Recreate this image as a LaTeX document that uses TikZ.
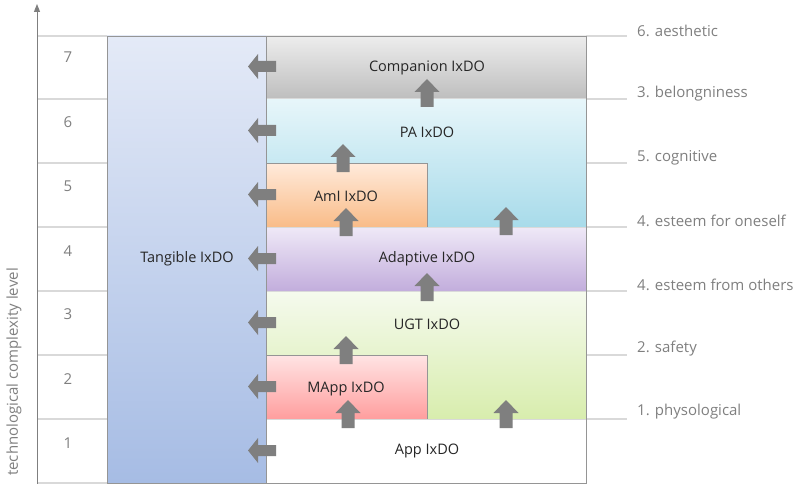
\documentclass[tikz,border=0pt]{standalone}
\usepackage{fontspec}
\setmainfont{Open Sans}
\usetikzlibrary{arrows.meta}

\definecolor{tangTop}{HTML}{E4EAF7}
\definecolor{tangBot}{HTML}{A6BCE4}
\definecolor{compTop}{HTML}{EDEDED}
\definecolor{compBot}{HTML}{BEBEBE}
\definecolor{paTop}{HTML}{E7F6FA}
\definecolor{paBot}{HTML}{A8DBEA}
\definecolor{amiTop}{HTML}{FFEADB}
\definecolor{amiBot}{HTML}{F9BC88}
\definecolor{adTop}{HTML}{EFE9F7}
\definecolor{adBot}{HTML}{C2ADDC}
\definecolor{ugtTop}{HTML}{F5FAEE}
\definecolor{ugtBot}{HTML}{D8EDAD}
\definecolor{mappTop}{HTML}{FFE4E4}
\definecolor{mappBot}{HTML}{FF9E9E}
\definecolor{arrowgray}{HTML}{7F7F7F}
\definecolor{gridgray}{HTML}{D9D9D9}
\definecolor{edgegray}{HTML}{959595}
\definecolor{textgray}{HTML}{7F7F7F}

\tikzset{
  gridline/.style={draw=gridgray, line width=1.2pt},
  boxedge/.style={draw=edgegray, line width=0.8pt},
  innerline/.style={draw=gridgray, line width=1pt},
  boxlabel/.style={font=\fontsize{14.5}{17}\selectfont, text=black!85, inner sep=0pt},
  levellabel/.style={font=\fontsize{15}{18}\selectfont, text=textgray, inner sep=0pt},
  needlabel/.style={font=\fontsize{15}{18}\selectfont, text=textgray, inner sep=0pt, anchor=west},
  blockarrow/.style={fill=arrowgray, draw=none},
  pics/leftarrow/.style={code={
    \path[blockarrow] (0,0) -- (10,-12.5) -- (10,-5.5) -- (28,-5.5) -- (28,5.5)
      -- (10,5.5) -- (10,12.5) -- cycle;}},
  pics/uparrow/.style={code={
    \path[blockarrow] (0,0) -- (12.5,13) -- (6.5,13) -- (6.5,28) -- (-6.5,28)
      -- (-6.5,13) -- (-12.5,13) -- cycle;}},
}

\begin{document}
\begin{tikzpicture}[x=1pt,y=-1pt]
\useasboundingbox (0,0) rectangle (795,484);

% level lines across the whole width
\foreach \y in {36,99,163,227,291,355,419}
  \draw[gridline] (37,\y) -- (627,\y);
\draw[gridline] (37,483) -- (107,483);

% complexity axis
\draw[draw=arrowgray, line width=1pt, -{Triangle[length=8pt,width=6pt]}] (37,484) -- (37,4);
\node[levellabel, rotate=90] (axislabel) at (14,372) {technological complexity level};

% level numbers
\foreach \n/\y in {7/57,6/122,5/186,4/251,3/314,2/379,1/443}
  \node[levellabel] (lvl\n) at (68,\y) {\n};

% Tangible column
\path[shade, top color=tangTop, bottom color=tangBot] (107,36) rectangle (266,483);

% stacked IxDO blocks
\path[shade, top color=compTop, bottom color=compBot] (266,36) rectangle (586,99);
\path[shade, top color=paTop, bottom color=paBot] (266,99) rectangle (586,227);
\path[shade, top color=amiTop, bottom color=amiBot] (266,163) rectangle (427,227);
\path[shade, top color=adTop, bottom color=adBot] (266,227) rectangle (586,291);
\path[shade, top color=ugtTop, bottom color=ugtBot] (266,291) rectangle (586,419);
\path[shade, top color=mappTop, bottom color=mappBot] (266,355) rectangle (427,419);
\path[fill=white] (266,419) rectangle (586,483);

% block separations
\draw[innerline] (266,99) -- (586,99);
\draw[innerline] (266,227) -- (586,227);
\draw[innerline] (266,291) -- (586,291);
\draw[innerline] (266,419) -- (586,419);
\draw[boxedge] (266,163) -- (427,163) -- (427,227);
\draw[boxedge] (266,355) -- (427,355) -- (427,419);

% outer frames
\draw[boxedge] (107,36) rectangle (266,483);
\draw[boxedge] (266,36) rectangle (586,483);

% block labels
\node[boxlabel] (tangible) at (187,259) {Tangible IxDO};
\node[boxlabel] (companion) at (427,68) {Companion IxDO};
\node[boxlabel] (pa) at (427,132) {PA IxDO};
\node[boxlabel] (ami) at (346,196) {AmI IxDO};
\node[boxlabel] (adaptive) at (427,259) {Adaptive IxDO};
\node[boxlabel] (ugt) at (427,324) {UGT IxDO};
\node[boxlabel] (mapp) at (346,389) {MApp IxDO};
\node[boxlabel] (app) at (427,451) {App IxDO};

% needs
\node[needlabel] (n6) at (637,31) {6. aesthetic};
\node[needlabel] (n3) at (637,94) {3. belongniness};
\node[needlabel] (n5) at (637,158) {5. cognitive};
\node[needlabel] (n4a) at (637,221) {4. esteem for oneself};
\node[needlabel] (n4b) at (637,285) {4. esteem from others};
\node[needlabel] (n2) at (637,349) {2. safety};
\node[needlabel] (n1) at (637,412) {1. physological};

% arrows towards the Tangible column
\foreach \y in {66.5,130.5,194.5,258.5,322.5,386.5,450.5}
  \pic at (248,\y) {leftarrow};

% upward arrows between blocks
\pic at (427,79) {uparrow};
\pic at (343,144) {uparrow};
\pic at (346,208) {uparrow};
\pic at (506,207) {uparrow};
\pic at (427,273) {uparrow};
\pic at (346,336) {uparrow};
\pic at (348,400) {uparrow};
\pic at (506,400) {uparrow};
\end{tikzpicture}
\end{document}
